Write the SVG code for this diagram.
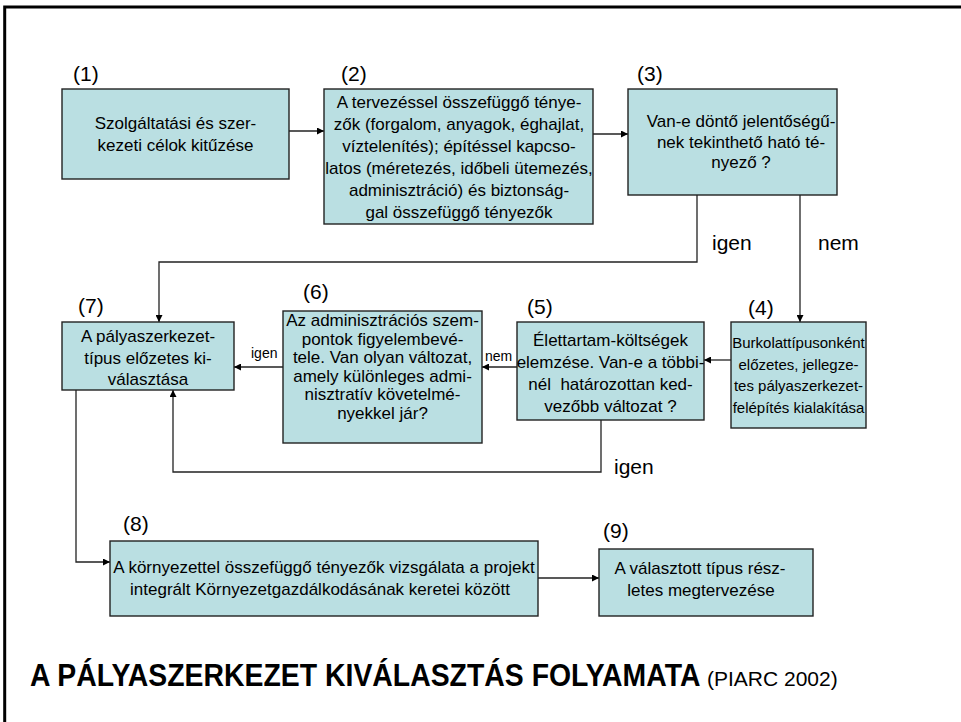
<svg xmlns="http://www.w3.org/2000/svg" width="961" height="722" viewBox="0 0 961 722">
<defs>
<style>
.box{fill:#BADFE2;stroke:#222;stroke-width:1.4}
.t{font-family:"Liberation Sans",Arial,sans-serif;font-size:17px;fill:#000;text-anchor:middle}
.s4{font-size:15px}
.n{font-family:"Liberation Sans",Arial,sans-serif;font-size:21px;fill:#000}
.lb{font-family:"Liberation Sans",Arial,sans-serif;fill:#000}
.c{fill:none;stroke:#222;stroke-width:1.3}
</style>
<marker id="ah" viewBox="0 0 10 10" refX="10" refY="5" markerWidth="7" markerHeight="7" markerUnits="userSpaceOnUse" orient="auto">
<path d="M0,0 L10,5 L0,10 z" fill="#000"/>
</marker>
</defs>
<rect width="961" height="722" fill="#fff"/>
<path d="M4.7,722 V7 H961" fill="none" stroke="#000" stroke-width="3"/>

<g id="connectors">
<path class="c" d="M289,131 H324" marker-end="url(#ah)"/>
<path class="c" d="M593,134 H628" marker-end="url(#ah)"/>
<path class="c" d="M697,195 V262 H159 V322" marker-end="url(#ah)"/>
<path class="c" d="M800,195 V322" marker-end="url(#ah)"/>
<path class="c" d="M731,360 H704" marker-end="url(#ah)"/>
<path class="c" d="M517,367 H482" marker-end="url(#ah)"/>
<path class="c" d="M283,367 H234" marker-end="url(#ah)"/>
<path class="c" d="M601,420 V472 H173 V390" marker-end="url(#ah)"/>
<path class="c" d="M76,390 V562 H110" marker-end="url(#ah)"/>
<path class="c" d="M538,578 H599" marker-end="url(#ah)"/>
<text class="lb" x="712" y="250" font-size="21">igen</text>
<text class="lb" x="818" y="250" font-size="21">nem</text>
<text class="lb" x="251" y="358" font-size="14">igen</text>
<text class="lb" x="485" y="361" font-size="14">nem</text>
<text class="lb" x="614" y="474" font-size="21">igen</text>
</g>

<g id="node1">
<text class="n" x="73" y="81">(1)</text>
<rect class="box" x="62" y="89" width="227" height="90"/>
<text class="t" x="175.5" y="129">Szolgáltatási és szer-</text>
<text class="t" x="175.5" y="151">kezeti célok kitűzése</text>
</g>

<g id="node2">
<text class="n" x="341" y="81">(2)</text>
<rect class="box" x="324" y="89" width="269" height="135"/>
<text class="t" x="459" y="108">A tervezéssel összefüggő ténye-</text>
<text class="t" x="459" y="130">zők (forgalom, anyagok, éghajlat,</text>
<text class="t" x="459" y="152">víztelenítés); építéssel kapcso-</text>
<text class="t" x="459" y="174">latos (méretezés, időbeli ütemezés,</text>
<text class="t" x="459" y="196">adminisztráció) és biztonság-</text>
<text class="t" x="459" y="218">gal összefüggő tényezők</text>
</g>

<g id="node3">
<text class="n" x="637" y="81">(3)</text>
<rect class="box" x="628" y="89" width="209" height="106"/>
<text class="t" x="741" y="127">Van-e döntő jelentőségű-</text>
<text class="t" x="741" y="147.5">nek tekinthető ható té-</text>
<text class="t" x="741" y="168">nyező ?</text>
</g>

<g id="node4">
<text class="n" x="748" y="315">(4)</text>
<rect class="box" x="731" y="322" width="135" height="106"/>
<text class="t s4" x="798.5" y="348">Burkolattípusonként</text>
<text class="t s4" x="798.5" y="369.5">előzetes, jellegze-</text>
<text class="t s4" x="798.5" y="391">tes pályaszerkezet-</text>
<text class="t s4" x="798.5" y="412.5">felépítés kialakítása</text>
</g>

<g id="node5">
<text class="n" x="527" y="314">(5)</text>
<rect class="box" x="517" y="322" width="187" height="98"/>
<text class="t" x="610.5" y="346">Élettartam-költségek </text>
<text class="t" x="610.5" y="368">elemzése. Van-e a többi-</text>
<text class="t" x="610.5" y="390" xml:space="preserve">nél  határozottan ked-</text>
<text class="t" x="610.5" y="412">vezőbb változat ?</text>
</g>

<g id="node6">
<text class="n" x="303" y="299">(6)</text>
<rect class="box" x="283" y="311" width="199" height="132"/>
<text class="t" x="382.5" y="326">Az adminisztrációs szem-</text>
<text class="t" x="382.5" y="344.5">pontok figyelembevé-</text>
<text class="t" x="382.5" y="363">tele. Van olyan változat,</text>
<text class="t" x="382.5" y="381.5">amely különleges admi-</text>
<text class="t" x="382.5" y="400">nisztratív követelmé-</text>
<text class="t" x="382.5" y="418.5">nyekkel jár?</text>
</g>

<g id="node7">
<text class="n" x="78" y="313">(7)</text>
<rect class="box" x="62" y="322" width="172" height="68"/>
<text class="t" x="148" y="342">A pályaszerkezet-</text>
<text class="t" x="148" y="363.5">típus előzetes ki-</text>
<text class="t" x="148" y="385">választása</text>
</g>

<g id="node8">
<text class="n" x="123" y="531">(8)</text>
<rect class="box" x="110" y="541" width="428" height="75"/>
<text class="t" x="324" y="573">A környezettel összefüggő tényezők vizsgálata a projekt</text>
<text class="t" x="320" y="595">integrált Környezetgazdálkodásának keretei között</text>
</g>

<g id="node9">
<text class="n" x="603" y="538">(9)</text>
<rect class="box" x="599" y="549" width="214" height="67"/>
<text class="t" x="700" y="574">A választott típus rész-</text>
<text class="t" x="701" y="596">letes megtervezése</text>
</g>

<g id="title">
<text class="lb" transform="translate(30,686) scale(1,1.1)" x="0" y="0" font-size="28.4" font-weight="bold">A PÁLYASZERKEZET KIVÁLASZTÁS FOLYAMATA</text>
<text class="lb" x="707" y="686" font-size="21">(PIARC 2002)</text>
</g>
</svg>
